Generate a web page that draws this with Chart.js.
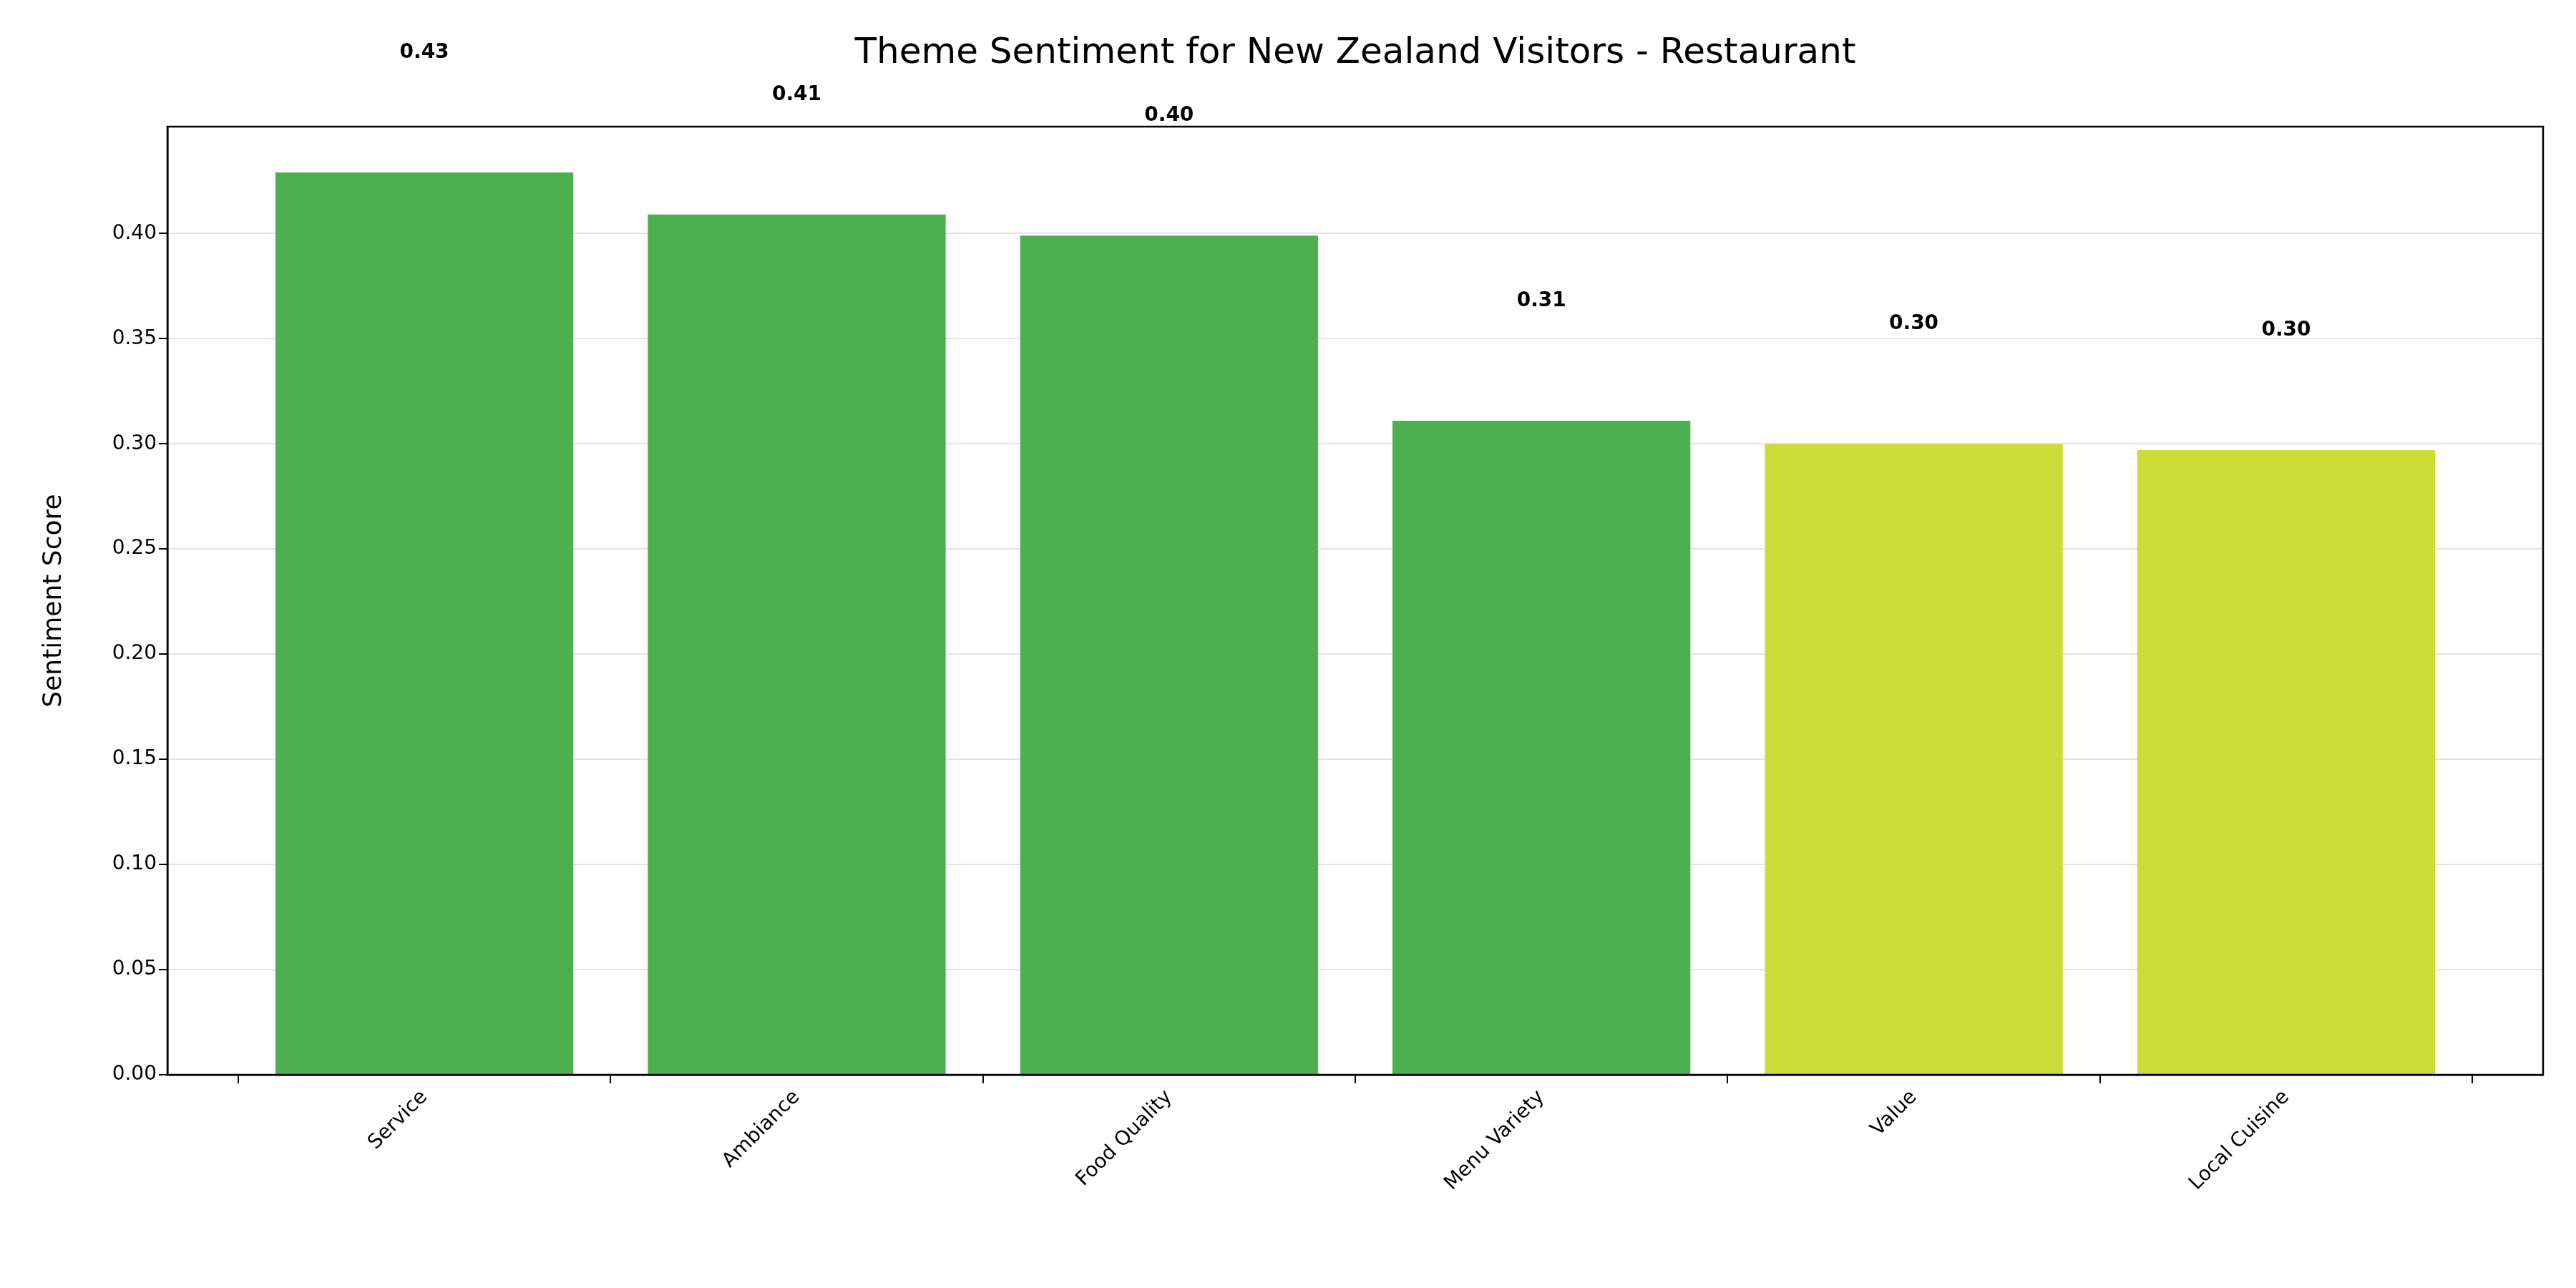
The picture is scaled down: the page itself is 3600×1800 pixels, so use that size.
<!DOCTYPE html>
<html><head><meta charset="utf-8">
<script src="https://cdn.jsdelivr.net/npm/chart.js@4/dist/chart.umd.min.js"></script>
<style>body{margin:0;background:#fff}canvas{display:block}</style>
</head><body>
<canvas id="c" width="3600" height="1800"></canvas>
<script>
// Theme sentiment chart

const categories = ['Service', 'Ambiance', 'Food Quality', 'Menu Variety', 'Value', 'Local Cuisine'];
const scores = [0.429, 0.409, 0.399, 0.311, 0.300, 0.297];
const barColors = ['#4caf50', '#4caf50', '#4caf50', '#4caf50', '#cddc39', '#cddc39'];
const labelOffset = 0.057;
const FONT = '"DejaVu Sans", sans-serif';

const overlay = {
  id: 'overlay',
  afterDraw(chart){
    const ctx = chart.ctx, a = chart.chartArea;
    const x = chart.scales.x, y = chart.scales.y;
    ctx.save();
    ctx.strokeStyle = '#000'; ctx.lineWidth = 2.5;
    ctx.strokeRect(a.left, a.top, a.right - a.left, a.bottom - a.top);
    // value labels
    ctx.fillStyle = '#000'; ctx.font = 'bold 28px ' + FONT;
    ctx.textAlign = 'center'; ctx.textBaseline = 'middle';
    scores.forEach((v, i) => {
      ctx.fillText(v.toFixed(2), x.getPixelForValue(i), y.getPixelForValue(v + labelOffset));
    });
    // title
    ctx.font = '50px ' + FONT;
    ctx.fillText('Theme Sentiment for New Zealand Visitors - Restaurant', (a.left + a.right) / 2, 75);
    ctx.restore();
  }
};

new Chart(document.getElementById('c').getContext('2d'), {
  type: 'bar',
  data: { datasets: [{ data: scores.map((v, i) => ({ x: i, y: v })), backgroundColor: barColors, barPercentage: 0.8, categoryPercentage: 1 }] },
  options: {
    responsive: false, animation: false, devicePixelRatio: 1,
    layout: { padding: { top: 177, right: 46, left: 50, bottom: 0 } },
    plugins: { legend: { display: false }, tooltip: { enabled: false } },
    scales: {
      x: {
        type: 'linear', min: -0.69, max: 5.69, offset: false,
        grid: { drawOnChartArea: false, tickLength: 12, tickColor: '#000', lineWidth: 2 },
        border: { color: '#000', width: 2.5 },
        ticks: { color: '#000', font: { size: 28, family: FONT }, minRotation: 45, maxRotation: 45, stepSize: 1, autoSkip: false,
          callback: v => categories[v] },
        afterBuildTicks: s => { s.ticks = categories.map((c, i) => ({ value: i })); },
        afterFit: s => { s.height = 298; }
      },
      y: {
        min: 0, max: 0.4508,
        grid: { color: '#e3e3e3', lineWidth: 2, tickLength: 12, tickColor: '#000' },
        border: { color: '#000', width: 2.5 },
        ticks: { color: '#000', font: { size: 28, family: FONT }, stepSize: 0.05, callback: v => v.toFixed(2) },
        afterBuildTicks: s => { s.ticks = s.ticks.filter(t => t.value <= 0.4001); },
        title: { display: true, text: 'Sentiment Score', color: '#000', font: { size: 36, family: FONT } },
        afterFit: s => { s.width = 184; }
      }
    }
  },
  plugins: [overlay]
});
</script>
</body></html>
